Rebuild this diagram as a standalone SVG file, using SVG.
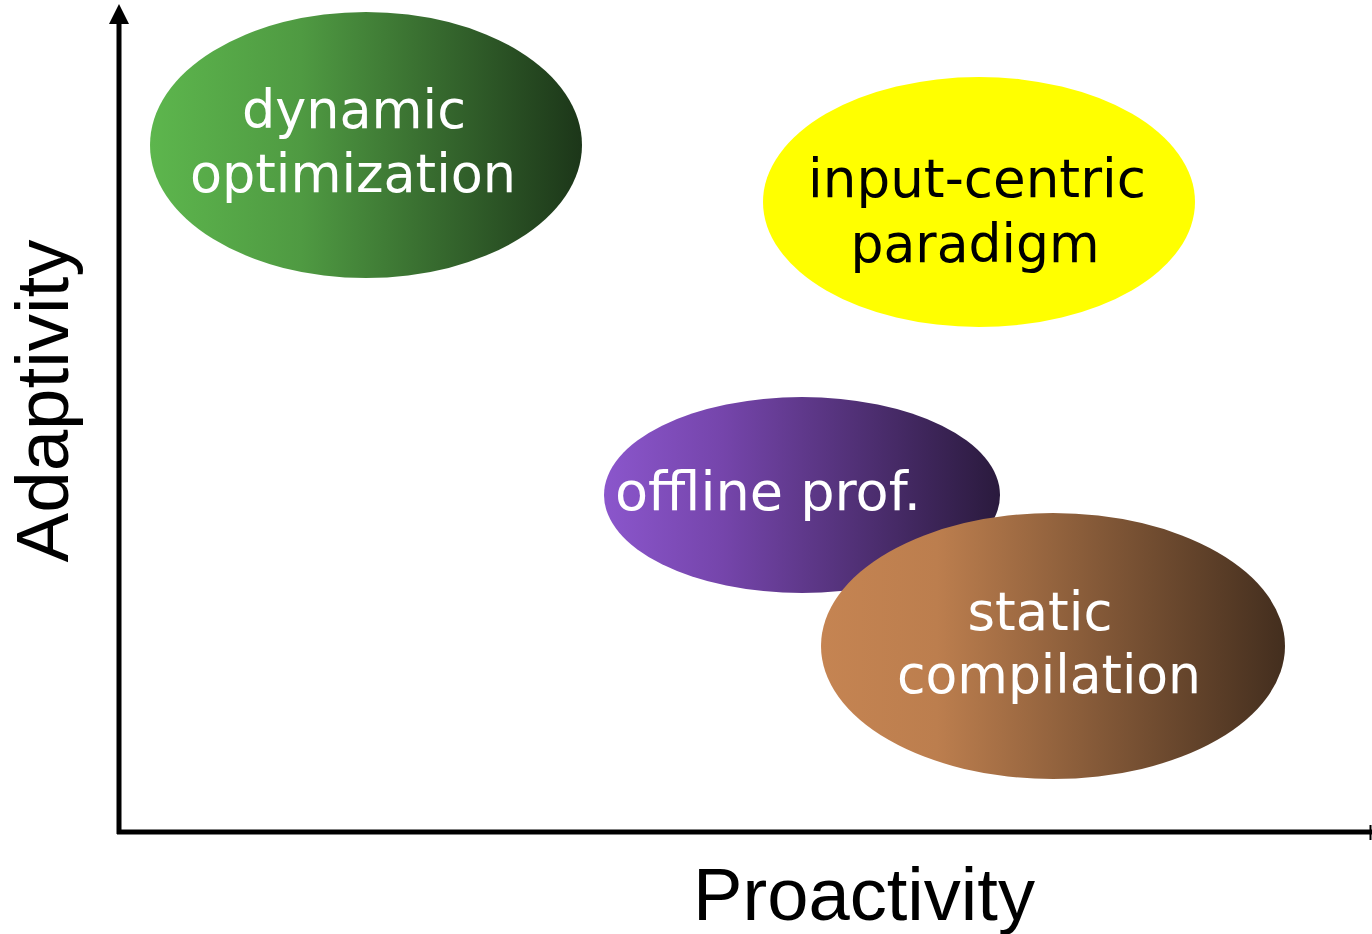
<svg xmlns="http://www.w3.org/2000/svg" width="1372" height="934" viewBox="0 0 1372 934">
  <style>
    .lbl { font-family: "DejaVu Sans", Verdana, sans-serif; font-size: 54px; text-anchor: middle; }
    .light { fill: #ffffff; }
    .dark { fill: #000000; }
    .axis { stroke: #000; stroke-width: 5; fill: none; }
    .axtitle { font-family: "Liberation Sans", Arial, sans-serif; font-size: 74px; fill: #000; text-anchor: middle; }
  </style>
  <defs>
    <linearGradient id="gGreen" x1="0" y1="0" x2="1" y2="0">
      <stop offset="0" stop-color="#5db64d"/>
      <stop offset="0.35" stop-color="#4f9a42"/>
      <stop offset="1" stop-color="#1c3619"/>
    </linearGradient>
    <linearGradient id="gPurple" x1="0" y1="0" x2="1" y2="0">
      <stop offset="0" stop-color="#8b56cc"/>
      <stop offset="0.3" stop-color="#7545ab"/>
      <stop offset="1" stop-color="#2a1a3d"/>
    </linearGradient>
    <linearGradient id="gBrown" x1="0" y1="0" x2="1" y2="0">
      <stop offset="0" stop-color="#c58452"/>
      <stop offset="0.25" stop-color="#bc7e4e"/>
      <stop offset="1" stop-color="#432e1e"/>
    </linearGradient>
  </defs>

  <!-- axes -->
  <g id="axes">
    <line class="axis" x1="119" y1="834" x2="119" y2="20"/>
    <polygon points="119,4 109,24 129,24" fill="#000"/>
    <line class="axis" x1="117" y1="832" x2="1372" y2="832"/>
    <line x1="1370.5" y1="825" x2="1370.5" y2="840" stroke="#000" stroke-width="2"/>
    <text class="axtitle" x="864" y="920" textLength="342" lengthAdjust="spacingAndGlyphs">Proactivity</text>
    <text class="axtitle" transform="translate(68,401) rotate(-90)" x="0" y="0" textLength="323" lengthAdjust="spacingAndGlyphs">Adaptivity</text>
  </g>

  <g id="dynamic-optimization">
    <ellipse cx="366" cy="145" rx="216" ry="133" fill="url(#gGreen)"/>
    <text class="lbl light" x="354" y="128" textLength="224" lengthAdjust="spacingAndGlyphs">dynamic</text>
    <text class="lbl light" x="353" y="192" textLength="326" lengthAdjust="spacingAndGlyphs">optimization</text>
  </g>

  <g id="input-centric-paradigm">
    <ellipse cx="979" cy="202" rx="216" ry="125" fill="#ffff00"/>
    <text class="lbl dark" x="977" y="197" textLength="338" lengthAdjust="spacingAndGlyphs">input-centric</text>
    <text class="lbl dark" x="975" y="262" textLength="249" lengthAdjust="spacingAndGlyphs">paradigm</text>
  </g>

  <g id="offline-prof">
    <ellipse cx="802" cy="495" rx="198" ry="98" fill="url(#gPurple)"/>
    <text class="lbl light" x="768" y="510" textLength="306" lengthAdjust="spacingAndGlyphs">offline prof.</text>
  </g>

  <g id="static-compilation">
    <ellipse cx="1053" cy="646" rx="232" ry="133" fill="url(#gBrown)"/>
    <text class="lbl light" x="1040" y="630" textLength="145" lengthAdjust="spacingAndGlyphs">static</text>
    <text class="lbl light" x="1049" y="693" textLength="304" lengthAdjust="spacingAndGlyphs">compilation</text>
  </g>
</svg>
